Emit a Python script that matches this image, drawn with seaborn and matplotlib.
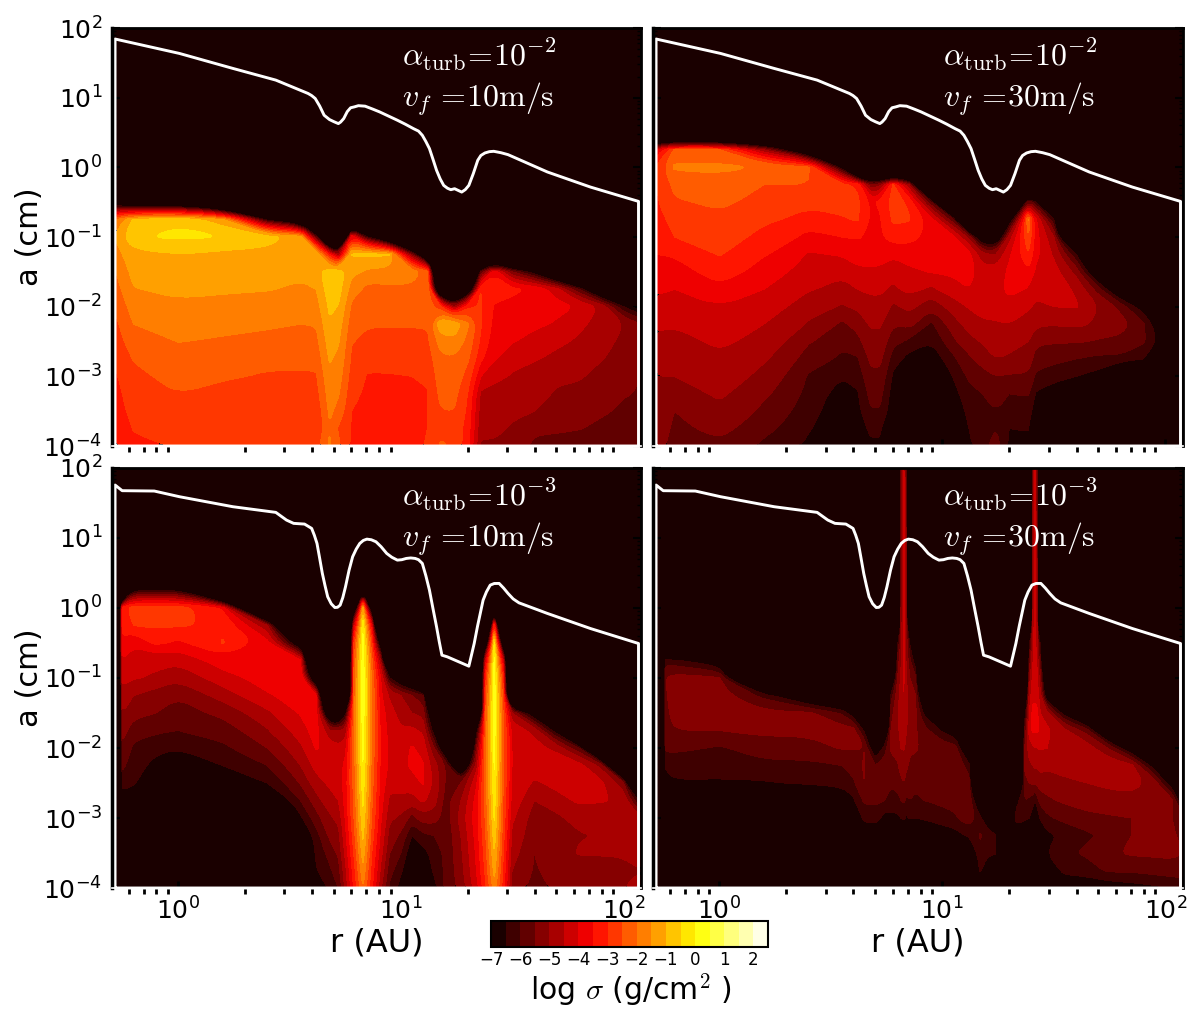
import numpy as np
import matplotlib
matplotlib.use("Agg")
import matplotlib.pyplot as plt
from matplotlib.path import Path
from matplotlib.ticker import LogLocator, NullFormatter
import seaborn as sns

# ---------- white curves (log10 r, log10 a) ----------
top_curve_logr = [-.283, .006, .246, .439, .584, .60, .616, .636, .656, .68, .70, .72, .73, .744, .76, .775, .792, .81,
                  .84, .875, .905, .985, 1.02, 1.057, 1.08, 1.097, 1.113, 1.129, 1.145, 1.161, 1.177, 1.193, 1.21,
                  1.225, 1.242, 1.274, 1.29, 1.306, 1.326, 1.346, 1.36, 1.378, 1.398, 1.418, 1.45, 1.482, 1.659, 1.852,
                  2.068]
top_curve_loga = [1.842, 1.635, 1.42, 1.252, 1.06, 1.03, .988, .88, .748, .686, .655, .628, .65, .70, .80, .855, .868,
                  .885, .878, .835, .796, .676, .62, .556, .52, .46, .37, .269, .115, -.043, -.165, -.259, -.30, -.321,
                  -.307, -.355, -.32, -.259, -.09, .101, .17, .206, .225, .23, .21, .182, -.067, -.283, -.489]
bot_curve_logr = [-.283, -.251, -.107, .006, .246, .439, .487, .519, .568, .6, .612, .624, .636, .648, .66, .672, .688,
                  .704, .716, .728, .74, .752, .768, .784, .80, .816, .832, .848, .868, .889, .912, .937, .96, .985,
                  1.005, 1.025, 1.045, 1.065, 1.08, 1.097, 1.113, 1.129, 1.145, 1.161, 1.173, 1.185, 1.2095, 1.306,
                  1.33, 1.345, 1.37, 1.385, 1.402, 1.42, 1.442, 1.462, 1.482, 1.505, 1.531, 1.659, 1.852, 2.068]
bot_curve_loga = [1.757, 1.676, 1.671, 1.59, 1.447, 1.366, 1.256, 1.209, 1.199, 1.137, 1.04, .922, .71, .494, .32, .16,
                  .06, .007, .01, .041, .15, .303, .54, .732, .84, .922, .965, .984, .975, .946, .875, .78, .725, .684,
                  .69, .708, .715, .708, .69, .637, .46, .255, -.01, -.269, -.48, -.674, -.698, -.831, -.507, -.26,
                  .112, .23, .327, .35, .351, .285, .208, .13, .074, -.078, -.293, -.507]

# ---------- grid rows (log10 a) ----------
rows_std = [.5, .25, 0, -.25, -.5, -.75, -1, -1.25, -1.5, -1.75, -2, -2.25, -2.5, -2.75, -3, -3.25, -3.5, -3.75, -4]
rows_full = [2, 1.5, 1] + rows_std

# ---------- log sigma: one entry per column, (first row index, values downward) ----------
tl_logr = [-.28, -.2, 0, .2, .4, .55, .62, .68, .72, .78, .85, .95, 1.05, 1.12, 1.18, 1.24, 1.3, 1.36, 1.42, 1.5, 1.6,
           1.7, 1.8, 1.9, 2.0, 2.08]
tl_sigma = [
    (4, [-8, -2, -1.4, -1.7, -2, -2.2, -2.4, -2.6, -2.7, -2.9, -3.05, -3.15, -3.2, -3.25, -3.3]),
    (4, [-9, -.9, -.55, -1.15, -1.32, -1.52, -1.76, -2, -2.25, -2.47, -2.6, -2.72, -2.85, -2.98, -3.05]),
    (4, [-9, -.6, -.4, -1, -1.19, -1.38, -1.58, -1.78, -1.99, -2.16, -2.33, -2.5, -2.66, -2.82, -2.98]),
    (4, [-12, -1.4, -.5, -1.1, -1.25, -1.42, -1.65, -1.85, -2.05, -2.25, -2.45, -2.6, -2.75, -2.88, -3]),
    (4, [-14, -6.8, -.85, -1.08, -1.23, -1.47, -1.68, -1.9, -2.15, -2.35, -2.55, -2.65, -2.75, -2.85, -2.95]),
    (4, [-12, -9, -1.2, -1.05, -1.35, -1.6, -1.8, -2, -2.18, -2.38, -2.55, -2.65, -2.75, -2.85, -2.95]),
    (6, [-6, -1, -1.2, -1.5, -1.72, -1.97, -2.15, -2.33, -2.55, -2.7, -2.88, -2.95, -2.7]),
    (6, [-14, -3.5, -.6, -.7, -.9, -1.05, -1.25, -1.45, -1.6, -1.75, -1.9, -2.05, -1.9]),
    (6, [-14, -5, -.7, -.8, -1.02, -1.25, -1.45, -1.6, -1.75, -1.95, -2.15, -2.55, -2.4]),
    (5, [-12, -3.5, -.95, -1.35, -1.75, -2.1, -2.3, -2.47, -2.6, -2.75, -2.87, -3, -3.05, -3.08]),
    (5, [-14, -6.5, -.85, -1.6, -2.15, -2.28, -2.45, -2.65, -2.85, -3.03, -3.1, -3.15, -3.2, -3.2]),
    (6, [-10, -.95, -1.65, -2.1, -2.25, -2.45, -2.65, -2.82, -3.03, -3.12, -3.16, -3.2, -3.2]),
    (7, [-5.5, -1.7, -2.1, -2.25, -2.45, -2.65, -2.82, -3, -3.1, -3.12, -3.15, -3.15]),
    (7, [-10, -2.3, -2.05, -2.2, -2.45, -2.6, -2.75, -2.95, -3.02, -3.02, -3, -2.95]),
    (9, [-11, -3, -1.05, -1.75, -2.1, -2.2, -2.35, -2.52, -2.75, -2.4]),
    (10, [-5, -1.1, -1.6, -2.05, -2.2, -2.35, -2.5, -2.7, -2.6]),
    (9, [-9, -3.2, -1.9, -2.15, -2.4, -2.7, -3, -3.1, -3.2, -3.3]),
    (8, [-6, -3, -2.95, -2.95, -3.1, -3.4, -4, -4.6, -4.75, -4.9, -5.05]),
    (7, [-12, -3.6, -3.2, -3.55, -3.65, -3.8, -3.95, -4.35, -4.65, -4.8, -4.9, -5.05]),
    (8, [-5.5, -3.4, -3.6, -3.75, -3.97, -4.3, -4.55, -4.7, -4.9, -5.05, -5.2]),
    (8, [-7, -3.6, -3.7, -3.9, -4.15, -4.45, -4.7, -4.85, -5, -5.4, -5.6]),
    (8, [-10, -4.3, -3.85, -4.05, -4.35, -4.65, -4.9, -5.05, -5.25, -5.45, -5.6]),
    (9, [-6, -4.05, -4.35, -4.6, -4.85, -4.95, -5.1, -5.25, -5.48, -5.7]),
    (9, [-9, -4.6, -4.75, -4.85, -4.97, -5.15, -5.3, -5.42, -5.6, -5.75]),
    (10, [-6.5, -5, -5.1, -5.2, -5.35, -5.45, -5.6, -5.7, -5.75]),
    (10, [-7.6, -5.5, -5.45, -5.45, -5.5, -5.55, -5.6, -5.7, -5.75]),
]

tr_logr = [-.28, -.2, 0, .2, .4, .55, .62, .68, .72, .78, .85, .95, 1.05, 1.12, 1.18, 1.24, 1.3, 1.385, 1.42, 1.5, 1.6,
           1.7, 1.8, 1.9, 2.0, 2.08]
tr_sigma = [
    (1, [-4, -2.9, -3, -3.05, -3.2, -3.3, -3.5, -3.7, -3.9, -4.15, -4.4, -4.6, -4.8, -5, -5.1, -5.2, -5.25, -5.3]),
    (1, [-2.4, -1.9, -2.35, -2.55, -2.8, -3, -3.45, -3.7, -4, -4.25, -4.45, -4.65, -4.85, -5, -5.2, -5.5, -5.6, -5.7]),
    (1, [-2.45, -1.9, -2.15, -2.4, -2.6, -2.8, -2.97, -3.25, -3.6, -4, -4.2, -4.4, -4.6, -4.75, -4.92, -5.1, -5.35, -5.6]),
    (1, [-5, -2.05, -2.5, -2.7, -2.9, -3.15, -3.45, -3.75, -4, -4.25, -4.5, -4.7, -4.93, -5.15, -5.4, -5.62, -5.85, -6.1]),
    (1, [-9, -2.4, -2.5, -2.85, -3.2, -3.65, -4.05, -4.25, -4.45, -4.8, -5.05, -5.45, -5.75, -6.05, -6.15, -6.3, -6.45, -6.6]),
    (2, [-7, -2.9, -2.8, -3.05, -3.5, -3.95, -4.35, -4.7, -5.05, -5.6, -5.85, -6.1, -6.45, -6.8, -6.9, -7, -7]),
    (3, [-3.1, -2.9, -2.95, -3.45, -3.75, -4.1, -4.5, -4.9, -5.3, -5.65, -6.05, -6.3, -6.55, -6.65, -6.85, -6.9]),
    (3, [-5.5, -3.6, -3.55, -3.6, -3.7, -4.1, -4.4, -4.65, -4.93, -5.15, -5.38, -5.6, -5.82, -6.03, -6.35, -6.6]),
    (3, [-5.2, -3.4, -3.55, -3.6, -3.75, -4.1, -4.4, -4.65, -4.93, -5.15, -5.38, -5.6, -5.82, -6.03, -6.35, -6.6]),
    (3, [-2.95, -2.8, -2.9, -3.2, -3.9, -4.3, -4.6, -5.1, -5.45, -5.85, -6.25, -6.6, -6.8, -6.9]),
    (3, [-5, -3.1, -2.95, -3.3, -3.75, -4.1, -4.35, -4.85, -5.3, -6.1, -6.7]),
    (4, [-6, -3.8, -3.7, -3.8, -3.97, -4.6, -5.35, -6.1, -6.45, -6.9]),
    (5, [-6, -3.9, -3.8, -3.9, -4.2, -4.75, -5.2, -5.6, -6.1, -6.45, -6.7, -6.9]),
    (6, [-5.2, -3.85, -3.8, -4, -4.45, -4.8, -5.15, -5.6, -5.9, -6.15, -6.35, -6.5, -6.6]),
    (6, [-8, -4.9, -4.25, -4, -4.2, -4.6, -4.95, -5.3, -5.65, -6, -6.1, -6.2, -6.2]),
    (6, [-8.2, -5, -4.3, -4.2, -4.25, -4.55, -4.8, -5, -5.5, -5.9, -6, -6, -5.7]),
    (5, [-7.5, -4.8, -4.1, -3.9, -3.85, -4.15, -4.5, -4.85, -5.05, -5.55, -6, -6.2, -6.5, -6.6]),
    (4, [-5.5, -1.95, -2.5, -3, -3.55, -4.05, -4.4, -4.75, -5, -5.25, -5.55, -5.95, -6.2, -6.45, -6.7]),
    (4, [-6.5, -3.9, -3.8, -3.85, -4.1, -4.3, -4.6, -4.9, -5.4, -5.7, -6.1, -6.55, -6.9]),
    (5, [-6.5, -5, -4.6, -4.3, -4.2, -4.5, -4.95, -5.45, -5.8, -6.35, -6.7]),
    (7, [-6.5, -5.2, -4.6, -4.45, -4.85, -5.45, -6, -6.5]),
    (8, [-8, -5.8, -5, -5.1, -5.55, -6.1, -6.7]),
    (9, [-8, -5.7, -5.3, -5.6, -6.1]),
    (10, [-7, -5.9, -5.9, -6.5]),
    (11, [-7.5, -6.95]),
    (18, [-8]),
]

bl_logr = [-.28, -.25, -.2, -.1, 0, .2, .4, .55, .62, .68, .72, .75, .79, .83, .87, .91, .95, 1.0, 1.05, 1.1, 1.15, 1.2,
           1.27, 1.34, 1.38, 1.42, 1.46, 1.5, 1.6, 1.7, 1.8, 1.9, 2.0, 2.08]
bl_sigma = [
    (18, [-8]),
    (2, [-3.2, -3.3, -3.6, -4, -4.3, -4.7, -5, -5.3, -5.6, -5.9, -6.2, -6.8, -7.5]),
    (1, [-6.5, -2.75, -3, -3.9, -4.25, -4.45, -5, -5.3, -5.75, -6.1, -6.25, -6.4, -7, -7.5]),
    (1, [-6.5, -2.75, -2.9, -3.4, -4.3, -4.6, -5.2, -5.5, -5.9, -6.3, -6.7, -7.5]),
    (1, [-6.5, -2.75, -2.95, -3.6, -4.35, -4.85, -5.45, -5.7, -6, -6.45, -7.5]),
    (2, [-3.6, -3.1, -2.97, -3.7, -4.2, -4.75, -5.35, -5.75, -6.1, -6.5, -7.5]),
    (3, [-5, -3.8, -3.6, -3.75, -4.05, -4.6, -5.05, -5.5, -6, -6.5, -7.5]),
    (4, [-8, -3.9, -3.7, -3.8, -3.95, -4.2, -4.6, -5, -5.45, -6, -6.6, -7.5]),
    (6, [-9, -3.9, -3.75, -3.8, -3.95, -4.3, -4.7, -5.2, -5.7, -6.2, -6.4, -6.55, -7]),
    (8, [-9, -5, -4.2, -4.15, -4.4, -4.7, -5.1, -5.4, -5.8, -6.1, -6.4]),
    (8, [-9.5, -5, -4.4, -4.2, -4.3, -4.5, -4.85, -5.15, -5.4, -5.7, -6]),
    (8, [-7, -4.9, -4.2, -3.9, -3.8, -3.85, -4, -4.2, -4.4, -4.7, -4.9]),
    (2, [-9, -4.5, -3, -2.6, -2.4, -2.3, -2.2, -2.15, -2.2, -2.25, -2.3, -2.4, -2.5, -2.7, -2.95, -3.2, -3.4]),
    (1, [-8, -1.3, -.1, .2, .3, .35, .3, .3, .2, .1, 0, -.2, -.4, -.6, -.9, -1.2, -1.6, -2]),
    (2, [-8.5, -4, -2.9, -2.4, -2.1, -2, -2, -2, -2.1, -2.2, -2.3, -2.4, -2.55, -2.75, -3, -3.2, -3.4]),
    (4, [-8, -5, -4, -3.9, -3.7, -3.6, -3.6, -3.6, -3.7, -3.8, -3.9, -4.1, -4.3, -4.6, -4.9]),
    (6, [-6.5, -4.6, -4.3, -4.2, -4.1, -4.1, -4.3, -4.6, -4.9, -5.2, -5.5, -5.8, -6.1]),
    (6, [-8, -5, -4.7, -4.45, -4.25, -4.15, -4.3, -4.6, -5.1, -5.6, -6, -6.4, -6.7]),
    (6, [-9, -5.5, -5, -4.4, -3.95, -3.9, -4.2, -4.7, -5.7, -6.5, -7, -7.1, -7.2]),
    (7, [-6, -5.2, -4.6, -4.2, -3.95, -3.95, -4.4, -5.2, -6.1, -6.7, -7, -7]),
    (8, [-8.5, -7, -5.5, -4.8, -4.6, -4.8, -5.2, -6, -6.3, -6.4, -6.7]),
    (10, [-8, -5.5, -5.5, -5.7, -5.8, -5.9, -5.9, -5.9, -5.9]),
    (11, [-9, -5.5, -5, -4.8, -5, -5.1, -5.2, -5.3]),
    (9, [-7, -5.5, -4.8, -4.1, -3.8, -3.7, -3.8, -3.9, -4, -4.2]),
    (4, [-9, -4.5, -3.3, -2.9, -2.6, -2.4, -2.3, -2.25, -2.3, -2.35, -2.45, -2.6, -2.75, -2.9, -3.1]),
    (2, [-11, -3, -.4, .1, .25, .3, .3, .25, .15, .05, -.1, -.25, -.45, -.7, -1, -1.3, -1.7]),
    (4, [-9, -4.3, -3.2, -2.8, -2.5, -2.4, -2.35, -2.4, -2.5, -2.55, -2.65, -2.8, -2.95, -3.1, -3.25]),
    (8, [-5, -4.15, -4, -4, -4.05, -4.2, -4.4, -4.6, -4.8, -5, -5.2]),
    (8, [-7.5, -4.7, -4.3, -4, -4.6, -5, -5.3, -5.4, -5.5, -5.55, -5.7]),
    (9, [-7, -4.7, -4.1, -4.3, -4.7, -5.1, -5.25, -5.3, -5.3, -5.4]),
    (10, [-6, -4.3, -4.25, -4.4, -4.8, -5.05, -4.95, -5.25, -5.5]),
    (10, [-12, -5.2, -4.4, -4.45, -4.75, -4.95, -4.95, -5.2, -5.4]),
    (11, [-12, -5.4, -4.6, -4.8, -4.95, -4.95, -5.1, -5]),
    (12, [-14, -7, -5, -4.95, -4.95, -5, -4.8]),
]

br_logr = [-.28, -.24, -.2, 0, .2, .4, .55, .6, .65, .7, .74, .77, .80, .815, .827, .84, .855, .88, .92, 1.0, 1.06, 1.12,
           1.17, 1.2, 1.24, 1.29, 1.33, 1.37, 1.39, 1.405, 1.415, 1.425, 1.44, 1.47, 1.55, 1.65, 1.75, 1.85, 1.95, 2.03,
           2.08]
br_sigma = [
    (21, [-8]),
    (8, [-6.2, -5.5, -5.55, -5.6, -5.7, -5.9, -6.3, -7]),
    (8, [-6.4, -5.3, -5.3, -5.35, -5.5, -5.9, -6.2, -6.55]),
    (8, [-7.2, -5.45, -5.3, -5.3, -5.5, -6.05, -6.3, -6.55]),
    (10, [-6.2, -5.4, -5.35, -5.75, -6.1, -6.55]),
    (10, [-8, -5.4, -5.35, -5.7, -6.1, -6.4, -7.5]),
    (10, [-9, -6.1, -5.3, -5.45, -6, -6.3, -7]),
    (11, [-7, -5.25, -5.45, -5.75, -6.1, -6.6, -7.5]),
    (11, [-9, -6.6, -5.5, -5.45, -5.5, -5.9, -6.3, -7]),
    (12, [-9, -7.5, -6, -5.85, -5.9, -6.2, -7]),
    (12, [-9, -6.3, -5.8, -5.85, -6, -6.7]),
    (9, [-9, -6.3, -5.7, -5.5, -5.45, -5.6, -5.9, -6.2, -6.6]),
    (7, [-6.6, -5.8, -5.5, -5.2, -5.05, -5.1, -5.3, -5.55, -5.8, -6.15, -6.6]),
    (0, [-5.8, -5.8, -5.8, -5.6, -5.6, -5.5, -5.4, -5.3, -5.1, -4.9, -4.8, -4.7, -4.8, -5, -5.3, -5.6, -6, -6.5]),
    (0, [-4.3, -4.3, -4.3, -4.3, -4.3, -4.3, -4.3, -4.3, -4.3, -4.4, -4.5, -4.6, -4.75, -4.95, -5.2, -5.5, -5.9, -6.4, -7]),
    (0, [-5.8, -5.8, -5.8, -5.6, -5.6, -5.5, -5.4, -5.3, -5.2, -5, -4.9, -4.9, -5, -5.1, -5.4, -5.7, -6.1, -6.6]),
    (7, [-6.6, -5.9, -5.5, -5.25, -5.15, -5.3, -5.4, -5.6, -5.8, -6, -6.4]),
    (8, [-7, -5.9, -5.5, -5.4, -5.45, -5.45, -5.6, -5.85, -6.1, -6.5]),
    (10, [-9, -6.7, -5.8, -5.6, -5.6, -5.9, -6, -6.35, -7.5]),
    (12, [-6.6, -5.7, -5.55, -5.6, -5.9, -6.15, -6.9]),
    (12, [-7.2, -5.8, -5.6, -5.65, -5.85, -6.05, -6.7]),
    (13, [-8.5, -6.3, -5.8, -5.6, -5.6, -6.4, -7.5]),
    (16, [-8, -6.4, -5.95, -6.1, -6.4]),
    (17, [-7, -6.2, -6.3, -7]),
    (18, [-6.4, -6.4]),
    (21, [-8]),
    (16, [-6.8, -6.3, -6.8]),
    (10, [-9, -7, -5.9, -5.5, -5.4, -5.6, -6, -6.45, -6.7]),
    (7, [-6.7, -5.9, -5.3, -4.8, -4.5, -4.3, -4.7, -5.1, -5.5, -6.1, -6.5]),
    (0, [-5.8, -5.8, -5.6, -5.5, -5.4, -5.2, -5, -4.9, -4.6, -4.4, -4.2, -3.85, -3.9, -4.6, -5, -5.4, -6.2, -6.8]),
    (0, [-4.2, -4.2, -4.2, -4.2, -4.2, -4.2, -4.2, -4.2, -4.2, -4.2, -4.1, -3.9, -3.9, -4.5, -4.9, -5.4, -6.5, -7.5]),
    (0, [-5.8, -5.8, -5.6, -5.5, -5.4, -5.2, -5, -4.9, -4.6, -4.4, -4.2, -3.9, -3.9, -4.5, -4.9, -5.4, -6.2, -7]),
    (7, [-6.7, -6, -5.4, -4.9, -4.5, -4.05, -4.45, -4.8, -5.2, -5.8, -6.4, -7.5]),
    (9, [-9, -7.5, -4.9, -4.4, -4.5, -4.9, -5.2, -5.6, -6.1, -6.6, -6.5, -7]),
    (11, [-7, -4.9, -4.55, -4.75, -5.1, -5.4, -5.8, -6.4, -6.1, -6.3, -7]),
    (11, [-9, -5.8, -4.75, -4.6, -5, -5.3, -5.6, -6.1, -5.9, -6.2, -6.9]),
    (12, [-9, -5.6, -4.65, -4.85, -5.2, -5.55, -5.8, -5.6, -5.9, -6.8]),
    (13, [-7.5, -4.9, -4.8, -5.15, -5.5, -5.5, -5.4, -5.9, -6.7]),
    (14, [-7, -5.2, -5.1, -5.45, -5.45, -5.4, -5.75, -6.6]),
    (15, [-7.2, -5.4, -5.5, -5.45, -5.4, -5.65, -6.5]),
    (16, [-7.5, -5.9, -5.6, -5.5, -5.6, -6.4]),
]

colorbar_ticks = [-7, -6, -5, -4, -3, -2, -1, 0, 1, 2]
panel_alpha = ["-2", "-2", "-3", "-3"]
panel_vf = ["10", "30", "10", "30"]

# ---------- styling ----------
sns.set_theme(style="ticks", rc={
    "axes.edgecolor": "black", "xtick.color": "black", "ytick.color": "black",
    "text.color": "black", "axes.labelcolor": "black", "font.family": ["DejaVu Sans"]})
cmap = sns.color_palette("hot", as_cmap=True)
levels = np.arange(-7, 2.51, 0.5)
dark = cmap((-6.75 + 7) / 9.5)
W, H = 1200, 1018


def to_matrix(cols, nrows):
    out = []
    for start, vals in cols:
        tail = nrows - start - len(vals)
        out.append([-14.0] * start + list(vals) + [-8.0] * tail)
    return np.array(out, dtype=float).T


def round_contours(cs, passes=3):
    """Round the corners of the drawn contour polygons; the sigma values are untouched."""
    rounded = []
    for p in cs.get_paths():
        if len(p.vertices) == 0:
            rounded.append(p)
            continue
        starts = list(np.where(p.codes == Path.MOVETO)[0]) + [len(p.codes)]
        verts, codes = [], []
        for a, b in zip(starts[:-1], starts[1:]):
            v = np.log10(p.vertices[a:b])
            if np.allclose(v[0], v[-1]):
                v = v[:-1]
            if len(v) >= 3:
                for _ in range(passes):
                    nxt = np.roll(v, -1, axis=0)
                    w = np.empty((2 * len(v), 2))
                    w[0::2] = 0.75 * v + 0.25 * nxt
                    w[1::2] = 0.25 * v + 0.75 * nxt
                    v = w
            v = 10.0 ** v
            verts.append(np.vstack([v, v[:1]]))
            codes.append(np.array([Path.MOVETO] + [Path.LINETO] * (len(v) - 1) + [Path.CLOSEPOLY], dtype=Path.code_type))
        rounded.append(Path(np.vstack(verts), np.concatenate(codes)))
    cs.set_paths(rounded)


fig = plt.figure(figsize=(12, 10.18), dpi=100)
boxes = [(112, 28, 641, 446), (653, 28, 1183, 446), (112, 468, 641, 888), (653, 468, 1183, 888)]
panels = [(tl_logr, tl_sigma, rows_std, top_curve_logr, top_curve_loga),
          (tr_logr, tr_sigma, rows_std, top_curve_logr, top_curve_loga),
          (bl_logr, bl_sigma, rows_std, bot_curve_logr, bot_curve_loga),
          (br_logr, br_sigma, rows_full, bot_curve_logr, bot_curve_loga)]
cs = None
for i, ((x0, y0, x1, y1), (lr, sig, rows, cr, ca)) in enumerate(zip(boxes, panels)):
    ax = fig.add_axes([x0 / W, 1 - y1 / H, (x1 - x0) / W, (y1 - y0) / H])
    ax.set_xscale("log")
    ax.set_yscale("log")
    ax.set_facecolor(dark)
    z = to_matrix(sig, len(rows))
    cs = ax.contourf(10.0 ** np.array(lr), 10.0 ** np.array(rows), z, levels=levels, cmap=cmap, zorder=1)
    round_contours(cs)
    lx = 10.0 ** np.array([cr[0]] + cr + [cr[-1], cr[0]])
    ly = 10.0 ** np.array([-4.0] + ca + [-4.0, -4.0])
    sns.lineplot(x=lx, y=ly, sort=False, estimator=None, color="white", linewidth=2.1, ax=ax, zorder=3,
                 clip_on=False, legend=False)
    ax.set_xlim(0.505, 120)
    ax.set_ylim(1e-4, 100)
    ax.set_xlabel("")
    ax.set_ylabel("")
    for axis in (ax.xaxis, ax.yaxis):
        axis.set_major_locator(LogLocator(base=10, numticks=12))
        axis.set_minor_locator(LogLocator(base=10, subs=np.arange(2, 10) * 0.1, numticks=12))
        axis.set_minor_formatter(NullFormatter())
    ax.tick_params(axis="x", which="major", direction="in", length=5, width=2, labelsize=18, pad=7, top=False,
                   labelbottom=i >= 2)
    ax.tick_params(axis="x", which="minor", direction="out", length=4, width=2, top=False)
    ax.tick_params(axis="y", which="major", direction="in", length=6, width=1.5, labelsize=18, pad=7, right=True,
                   labelleft=i % 2 == 0)
    ax.tick_params(axis="y", which="minor", direction="in", length=3, width=1, right=True)
    for side in ("top", "left", "right"):
        ax.spines[side].set_visible(True)
        ax.spines[side].set_linewidth(2)
        ax.spines[side].set_color("black")
    ax.spines["left"].set_linewidth(2.5)
    ax.spines["bottom"].set_color("white")
    for s in ("top", "left", "right", "bottom"):
        ax.spines[s].set_zorder(5)
    ax.text(0.548, 0.912, r"$\alpha_{\rm turb}\!=\!10^{%s}$" % panel_alpha[i], transform=ax.transAxes, color="white",
            fontsize=23, math_fontfamily="cm", zorder=6)
    ax.text(0.548, 0.812, r"$v_f\,=\!%s{\rm m/s}$" % panel_vf[i], transform=ax.transAxes, color="white", fontsize=23,
            math_fontfamily="cm", zorder=6)
    if i % 2 == 0:
        ax.set_ylabel("a (cm)", fontsize=22)
        ax.yaxis.set_label_coords(-(112 - 44) / 529, 0.5)
    if i >= 2:
        ax.set_xlabel("r (AU)", fontsize=23, labelpad=2)

cax = fig.add_axes([491 / W, 1 - 947 / H, 277 / W, 26 / H])
cb = fig.colorbar(cs, cax=cax, orientation="horizontal", ticks=colorbar_ticks)
cb.ax.tick_params(direction="in", length=4, width=1, labelsize=12, pad=3, color="black")
cb.outline.set_linewidth(1.5)
cb.outline.set_edgecolor("black")
fig.text(631 / W, 1 - 1000 / H, r"log $\sigma$ (g/cm$^2$ )", ha="center", va="baseline", fontsize=21.5,
         math_fontfamily="cm")

fig.savefig("out.png", dpi=100, facecolor="white")
